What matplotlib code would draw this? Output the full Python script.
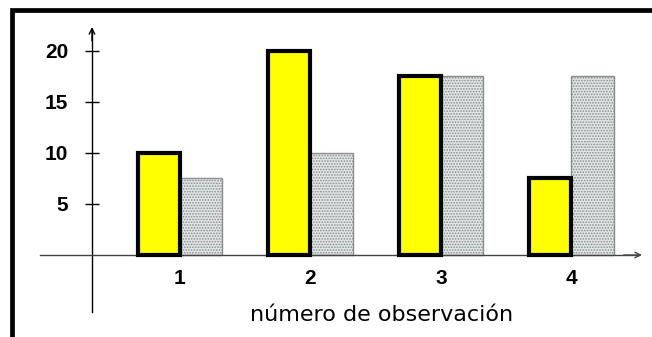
import matplotlib
matplotlib.use("Agg")
import matplotlib.pyplot as plt
from matplotlib.lines import Line2D
import numpy as np

observations = [1, 2, 3, 4]
series_yellow = [10, 20, 17.5, 7.5]
series_dotted = [7.5, 10, 17.5, 17.5]
y_ticks = [5, 10, 15, 20]
x_label = "número de observación"

plt.rcParams['font.family'] = ['DejaVu Sans']
plt.rcParams['hatch.linewidth'] = 0.8

fig = plt.figure(figsize=(6.52, 3.37), dpi=100)
fig.patch.set_facecolor('white')
ax = fig.add_axes([0, 0, 1, 1])
ax.set_facecolor('white')

x = np.array(observations, dtype=float)
w = 0.325
ax.bar(x + w / 2, series_dotted, width=w, color='#dfe6e6', hatch='......',
       edgecolor='#8c8c8c', linewidth=1.0, zorder=2)
ax.bar(x - w / 2, series_yellow, width=w, color='#ffff00',
       edgecolor='black', linewidth=3.0, zorder=3)

ax.set_xlim(-0.379, 4.617)
ax.set_ylim(-8.04, 25)

x0 = 0.3257
for s in ['top', 'right']:
    ax.spines[s].set_visible(False)
ax.spines['left'].set_position(('data', x0))
ax.spines['left'].set_bounds(-5.6, 22.2)
ax.spines['left'].set_linewidth(1.0)
ax.spines['bottom'].set_position(('data', 0))
ax.spines['bottom'].set_bounds(-0.073, 4.52)
ax.spines['bottom'].set_linewidth(1.0)
ax.spines['bottom'].set_color('#444444')

ax.annotate('', xy=(x0, 22.35), xytext=(x0, 21.0),
            arrowprops=dict(arrowstyle='->', lw=1.0, color='black',
                            shrinkA=0, shrinkB=0, mutation_scale=10))
ax.annotate('', xy=(4.54, 0), xytext=(4.4, 0),
            arrowprops=dict(arrowstyle='->', lw=1.0, color='#444444',
                            shrinkA=0, shrinkB=0, mutation_scale=10))

tick_font = dict(family='Liberation Sans', weight='bold', size=15)
ax.set_yticks(y_ticks)
ax.set_yticklabels([str(t) for t in y_ticks], fontdict=tick_font)
ax.tick_params(axis='y', direction='inout', length=10, width=1.0, pad=12)
ax.set_xticks(observations)
ax.set_xticklabels([str(o) for o in observations], fontdict=tick_font)
ax.tick_params(axis='x', length=0, pad=10)

ax.set_xlabel(x_label, fontsize=16, va='center', ha='center')
ax.xaxis.set_label_coords(382 / 652, 1 - 315 / 337)

bx = 12 / 652
by = 1 - 10 / 337
fig.add_artist(Line2D([bx, bx, 1.0], [0.0, by, by], transform=fig.transFigure,
                      color='black', linewidth=3.4, solid_joinstyle='miter'))

fig.savefig('out.png', dpi=100, facecolor='white')
